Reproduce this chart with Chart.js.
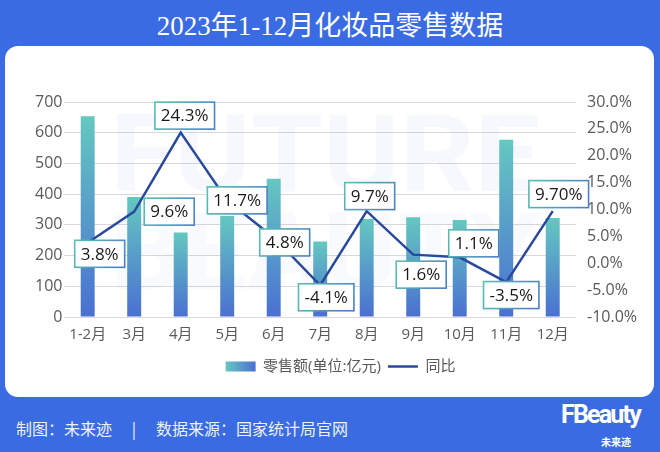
<!DOCTYPE html>
<html>
<head>
<meta charset="utf-8">
<script src="https://cdn.jsdelivr.net/npm/chart.js@4/dist/chart.umd.min.js"></script>
<style>
  html, body { margin: 0; padding: 0; }
  body {
    width: 660px; height: 452px; overflow: hidden; position: relative;
    background: #3a6be2;
    font-family: "Noto Sans CJK SC", sans-serif;
  }
  #titre {
    position: absolute; left: 0; top: 4px; width: 660px; text-align: center;
    color: #fff; font: 27px "Liberation Serif", "Noto Sans CJK SC", serif;
  }
  #panneau {
    position: absolute; left: 5px; top: 46px; width: 649px; height: 351px;
    background: #fff; border-radius: 13px;
  }
  #panneau canvas { display: block; }
  #pied {
    position: absolute; left: 16px; top: 416px; color: #eef2ff;
    font-size: 16px; white-space: nowrap;
  }
  #pied .sep { display: inline-block; width: 44px; text-align: center; }
  #logo {
    position: absolute; left: 561px; top: 400px; color: #fff;
    font: bold 25px Roboto, sans-serif; letter-spacing: -1.8px;
  }
  #logo-cn {
    position: absolute; left: 601px; top: 434px; color: #fff;
    font: bold 10px "Noto Sans CJK SC", sans-serif;
  }
</style>
</head>
<body>
<div id="titre">2023年1-12月化妆品零售数据</div>
<div id="panneau"><canvas id="chartVentes" width="649" height="351"></canvas></div>
<div id="pied">制图：未来迹<span class="sep">|</span>数据来源：国家统计局官网</div>
<div id="logo">FBeauty</div>
<div id="logo-cn">未来迹</div>

<script>
// ===== données =====
const mois = ["1-2月", "3月", "4月", "5月", "6月", "7月", "8月", "9月", "10月", "11月", "12月"];
const ventes = [654, 391, 275, 329, 450, 246, 319, 325, 316, 577, 322];      // 亿元
const croissance = [3.8, 9.6, 24.3, 11.7, 4.8, -4.1, 9.7, 1.6, 1.1, -3.5, 9.7]; // %
const etiquettesCroissance = ["3.8%", "9.6%", "24.3%", "11.7%", "4.8%", "-4.1%", "9.7%", "1.6%", "1.1%", "-3.5%", "9.70%"];
const axeVentes = { min: 0, max: 700, pas: 100 };
const axeCroissance = { min: -10, max: 30, pas: 5 };

// décalage de chaque étiquette par rapport à son point (placement seulement)
const decalages = [[12, 11], [35, 0], [4, -17], [10, 0], [11, 5], [6, 12], [3, -15], [8, 20], [14, -14], [5, 13], [6, -17]];

const policeChiffres = "'Open Sans', 'Noto Sans CJK SC', sans-serif";

function degradeBarre(context) {
  const chart = context.chart;
  const zone = chart.chartArea;
  if (!zone || context.type !== "data") return "#55a0cc";
  const yHaut = chart.scales.y.getPixelForValue(context.raw);
  const g = chart.ctx.createLinearGradient(0, yHaut, 0, zone.bottom);
  g.addColorStop(0, "#64c8c0");
  g.addColorStop(1, "#4a70d2");
  return g;
}

// filigrane "FUTURE BEAUTY" très pâle derrière les barres
const pluginFiligrane = {
  id: "filigrane",
  beforeDatasetsDraw(chart) {
    const ctx = chart.ctx;
    ctx.save();
    ctx.font = "bold 108px Roboto, sans-serif";
    ctx.textBaseline = "alphabetic";
    [["FUTURE", 145, "rgba(70, 100, 220, 0.045)"], ["BEAUTY", 243, "rgba(70, 100, 220, 0.03)"]].forEach(([mot, y, couleur]) => {
      const w = ctx.measureText(mot).width;
      ctx.save();
      ctx.translate(105, y);
      ctx.scale(430 / w, 1);
      ctx.fillStyle = couleur;
      ctx.fillText(mot, 0, 0);
      ctx.restore();
    });
    ctx.restore();
  }
};

// étiquettes encadrées des taux de croissance
const pluginEtiquettes = {
  id: "etiquettes",
  afterDatasetsDraw(chart) {
    const meta = chart.getDatasetMeta(1);
    const ctx = chart.ctx;
    ctx.save();
    ctx.font = "17px " + policeChiffres;
    ctx.textAlign = "center";
    ctx.textBaseline = "middle";
    meta.data.forEach((pt, i) => {
      const [dx, dy] = decalages[i];
      const x = pt.x + dx, y = pt.y + dy;
      const texte = etiquettesCroissance[i];
      const w = ctx.measureText(texte).width + 12, h = 27;
      const bord = ctx.createLinearGradient(x - w / 2, y - h / 2, x + w / 2, y + h / 2);
      bord.addColorStop(0, "#5cbfb0");
      bord.addColorStop(1, "#4b7dc6");
      ctx.fillStyle = "#fff";
      ctx.fillRect(x - w / 2, y - h / 2, w, h);
      ctx.strokeStyle = bord;
      ctx.lineWidth = 1.6;
      ctx.strokeRect(x - w / 2, y - h / 2, w, h);
      ctx.fillStyle = "#1a1a1a";
      ctx.fillText(texte, x, y + 1);
    });
    ctx.restore();
  }
};

// légende : carré en dégradé horizontal pour les barres
const pluginLegende = {
  id: "legendeDegrade",
  beforeDraw(chart) {
    const leg = chart.legend;
    if (!leg || !leg.legendHitBoxes || !leg.legendHitBoxes.length) return;
    const hb = leg.legendHitBoxes[0];
    const g = chart.ctx.createLinearGradient(hb.left, 0, hb.left + 30, 0);
    g.addColorStop(0, "#64c8c0");
    g.addColorStop(1, "#4a70d2");
    leg.legendItems[0].fillStyle = g;
  }
};

new Chart(document.getElementById("chartVentes"), {
  type: "bar",
  data: {
    labels: mois,
    datasets: [
      {
        type: "bar",
        label: "零售额(单位:亿元)",
        data: ventes,
        yAxisID: "y",
        backgroundColor: degradeBarre,
        barPercentage: 0.6,
        categoryPercentage: 0.5,
        order: 1
      },
      {
        type: "line",
        label: "同比",
        data: croissance,
        yAxisID: "y1",
        borderColor: "#2b499c",
        backgroundColor: "#2b499c",
        borderWidth: 2.5,
        pointRadius: 0,
        tension: 0,
        order: 0
      }
    ]
  },
  options: {
    responsive: false,
    animation: false,
    layout: { padding: { left: 28, right: 6, top: 56, bottom: 13 } },
    plugins: {
      tooltip: { enabled: false },
      legend: {
        position: "bottom",
        labels: {
          usePointStyle: true,
          pointStyleWidth: 30,
          boxHeight: 10,
          padding: 7,
          color: "#595959",
          font: { size: 15, family: policeChiffres },
          sort: (a, b) => a.datasetIndex - b.datasetIndex,
          generateLabels(chart) {
            return [
              { text: "零售额(单位:亿元)", fillStyle: "#55a0cc", strokeStyle: "rgba(0,0,0,0)", lineWidth: 0, pointStyle: "rect", datasetIndex: 0, fontColor: "#595959" },
              { text: "同比", fillStyle: "#2b499c", strokeStyle: "#2b499c", lineWidth: 2.5, pointStyle: "line", datasetIndex: 1, fontColor: "#595959" }
            ];
          }
        }
      }
    },
    scales: {
      x: {
        grid: { display: false },
        border: { display: false },
        ticks: { color: "#595959", font: { size: 15, family: policeChiffres }, padding: 1 },
        afterFit: axe => { axe.height += 7; }
      },
      y: {
        position: "left",
        min: axeVentes.min, max: axeVentes.max,
        ticks: { stepSize: axeVentes.pas, color: "#595959", font: { size: 16, family: policeChiffres }, padding: 2 },
        grid: { color: "#d9d9d9", drawTicks: false },
        border: { display: false }
      },
      y1: {
        position: "right",
        min: axeCroissance.min, max: axeCroissance.max,
        ticks: {
          stepSize: axeCroissance.pas, color: "#595959", font: { size: 16, family: policeChiffres }, padding: 11,
          callback: v => v.toFixed(1) + "%"
        },
        grid: { display: false, drawTicks: false },
        border: { display: false }
      }
    }
  },
  plugins: [pluginFiligrane, pluginEtiquettes, pluginLegende]
});
</script>
</body>
</html>
